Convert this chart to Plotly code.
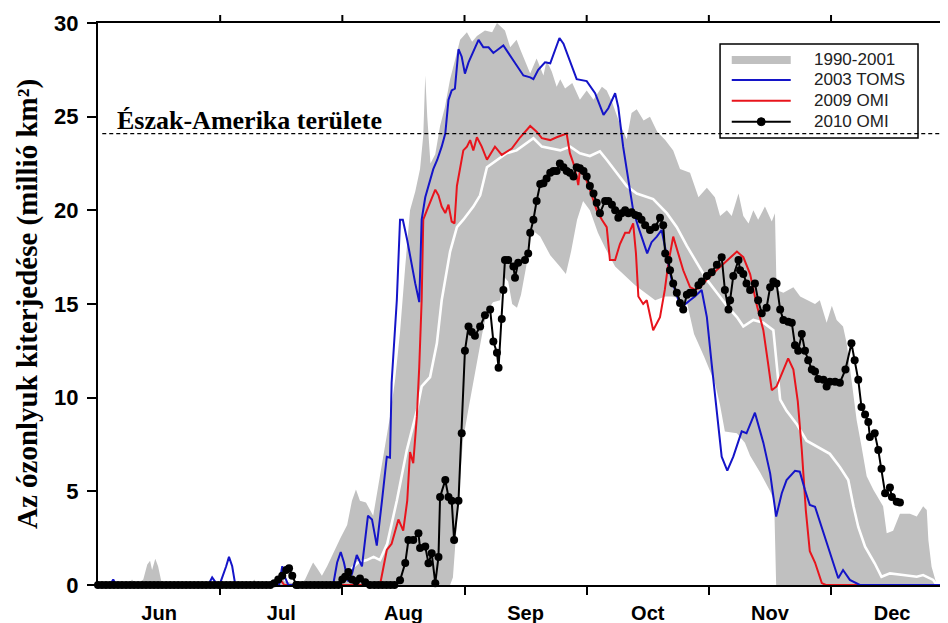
import plotly.graph_objects as go

# x = days since 1 June (axis month spacing of 30.5 days)
month_labels = ["Jun", "Jul", "Aug", "Sep", "Oct", "Nov", "Dec"]
month_mid = [15.25, 45.75, 76.25, 106.75, 137.25, 167.75, 198.25]
month_start = [30.5, 61, 91.5, 122, 152.5, 183]
y_ticks = [0, 5, 10, 15, 20, 25, 30]
north_america_area = 24.1
x_max = 212.2

# 1990-2001 range (upper and lower envelope)
range_hi_day = [0, 7.5, 8.5, 9.5, 11.3, 12.3, 13.0, 13.5, 14.3, 15.0, 15.8, 16.5, 38.0, 39.0, 40.0,
                44.5, 45.5, 46.5, 50.5, 51.7, 53.0, 53.7, 54.7, 55.9, 57.2, 58.7, 60.5, 62.2, 63.4,
                64.4, 65.4, 66.9, 68.7, 69.9, 71.4, 72.9, 74.2, 75.4, 76.7, 77.9, 79.2, 80.4, 81.2,
                81.7, 82.2, 83.0, 84.2, 85.4, 86.6, 87.9, 89.1, 90.4, 92.1, 93.4, 94.6, 96.6, 98.4,
                99.6, 100.6, 101.6, 102.9, 104.5, 105.4, 107.9, 109.5, 111.2, 112.0, 113.3, 114.5,
                115.4, 116.6, 118.4, 120.3, 122.0, 123.7, 125.8, 127.0, 128.3, 130.3, 132.0, 133.2,
                134.5, 136.2, 137.8, 139.6, 141.6, 143.6, 145.3, 147.8, 149.9, 152.0, 154.0, 155.3,
                157.0, 158.2, 159.9, 161.1, 162.4, 163.6, 164.8, 166.5, 168.2, 169.0, 169.4, 171.1,
                173.6, 175.3, 177.3, 179.0, 180.2, 181.9, 183.2, 184.4, 186.0, 186.9, 188.2, 189.4,
                190.6, 191.9, 193.6, 196.0, 196.9, 198.5, 200.2, 202.7, 204.4, 206.0, 206.9, 207.3,
                208.1, 209.0, 209.4]
range_hi_val = [0, 0, 0.3, 0, 0.3, 1.1, 1.3, 0.8, 1.4, 1.0, 0.2, 0, 0, 0.3, 0,
                0, 0.6, 0.2, 0, 0.3, 0.9, 1.2, 0.9, 0.5, 1.0, 1.7, 2.5, 3.2, 4.5,
                5.1, 4.5, 4.4, 3.7, 5.2, 7.0, 9.0, 11.0, 13.5, 17.0, 20.0, 21.0, 22.2, 24.0,
                27.2, 25.0, 22.5, 23.0, 24.5, 25.5, 27.0, 28.0, 29.1, 29.5, 29.0, 29.3, 29.6, 29.5,
                30.0, 29.8, 29.6, 28.7, 29.1, 28.6, 27.3, 28.1, 27.2, 28.0, 27.4, 26.6,
                27.0, 26.5, 26.8, 25.9, 26.4, 25.9, 26.6, 26.4, 25.8, 24.6, 23.8, 25.2,
                25.4, 24.8, 25.0, 24.2, 23.75, 23.2, 22.2, 22.0, 20.7, 21.2, 20.7, 19.7,
                20.0, 19.7, 20.9, 19.7, 19.3, 20.0, 19.5, 20.2, 19.4, 19.85, 15.75, 15.6,
                15.9, 15.4, 15.2, 15.0, 15.2, 14.0, 14.9, 14.15, 13.8, 12.9, 10.8, 8.8,
                7.4, 5.8, 5.07, 4.2, 2.76, 2.9, 3.8, 3.8, 3.65, 4.2, 4.0, 2.4,
                0.98, 0.27, 0]
range_lo_day = [0, 87.9, 88.6, 89.9, 91.1, 92.4, 93.7, 94.6, 95.9, 97.1, 98.6, 100.4, 101.2, 102.4,
                103.4, 104.6, 105.6, 106.9, 108.1, 110.4, 112.9, 115.3, 116.8, 118.1, 119.6, 121.1,
                122.8, 124.8, 126.6, 129.1, 131.6, 134.1, 136.6, 139.1, 141.6, 143.3, 145.3, 147.1,
                148.8, 151.3, 154.0, 155.3, 156.5, 159.5, 161.5, 162.8, 165.3, 167.8, 168.8, 169.3,
                212.2]
range_lo_val = [0, 0, 0.4, 4.2, 7.7, 9.3, 10.8, 12.0, 13.4, 14.6, 15.1, 15.2, 16.5, 16.2,
                15.0, 14.8, 15.5, 17.0, 19.0, 18.6, 17.6, 17.0, 16.6, 17.8, 19.5, 20.5,
                20.0, 18.8, 18.0, 17.0, 16.5, 16.0, 15.6, 15.2, 15.4, 15.4, 15.3, 15.0,
                13.4, 12.2, 10.8, 9.6, 8.2, 8.1, 7.6, 6.9, 6.0, 5.0, 4.5, 0,
                0]

# 1990-2001 mean (white line)
mean_day = [60.4, 62.9, 64.9, 67.1, 68.8, 70.4, 72.2, 74.6, 77.1, 79.6, 80.8, 82.9, 84.6, 85.8,
            86.7, 87.9, 89.6, 91.2, 93.7, 95.4, 97.1, 99.6, 102.0, 104.5, 107.0, 108.7, 110.8,
            112.9, 115.4, 117.9, 120.3, 122.8, 125.3, 127.0, 129.5, 132.0, 134.5, 137.0, 138.6,
            142.0, 144.5, 147.0, 149.5, 152.0, 154.5, 157.0, 159.5, 161.1, 163.6, 166.1, 168.6,
            169.4, 170.3, 171.9, 174.4, 176.9, 179.4, 182.7, 185.2, 187.3, 188.6, 189.8, 191.5,
            193.9, 195.6, 197.7, 201.0, 204.4, 206.0, 208.5, 209.4]
mean_val = [0.3, 0.8, 1.2, 1.33, 1.5, 1.33, 2.2, 4.5, 7.2, 9.3, 10.6, 11.1, 12.9, 15.2,
            16.3, 17.8, 19.1, 19.5, 20.2, 20.8, 22.3, 22.7, 23.05, 23.2, 23.6, 23.85, 23.4,
            23.3, 23.2, 23.4, 23.05, 22.9, 23.15, 22.7, 22.0, 21.3, 20.9, 20.7, 20.6,
            19.85, 19.1, 18.1, 17.2, 16.3, 15.6, 14.9, 14.3, 13.8, 14.15, 14.0, 13.6,
            12.0, 9.9, 9.3, 8.6, 7.7, 7.4, 7.0, 6.3, 5.6, 4.2, 3.1, 2.05,
            1.16, 0.44, 0.62, 0.53, 0.44, 0.53, 0.27, 0]

# 2003 TOMS
toms2003_day = [0, 3.0, 3.8, 4.5, 27.5, 28.5, 29.5, 30.5, 32.0, 32.7, 33.5, 34.2, 35.5, 45.2, 46.0,
                46.7, 47.5, 58.7, 59.7, 60.6, 61.4, 62.4, 63.4, 64.6, 65.9, 66.7, 67.4, 68.4, 69.6,
                70.9, 72.1, 72.9, 73.3, 74.6, 75.4, 76.1, 77.2, 79.2, 80.2, 80.8, 81.7, 83.7, 84.7,
                85.8, 86.7, 87.5, 88.3, 89.1, 90.0, 90.8, 91.6, 92.5, 95.0, 96.2, 97.5, 98.7, 101.2,
                103.7, 106.2, 107.9, 108.7, 109.9, 111.6, 112.9, 114.1, 115.2, 116.2, 117.4, 118.7,
                119.5, 122.0, 124.1, 126.2, 127.4, 129.1, 129.9, 131.1, 132.4, 133.6, 134.9, 136.1,
                137.1, 138.2, 139.5, 140.7, 143.2, 144.9, 146.1, 147.8, 149.0, 150.7, 152.0, 153.2,
                154.5, 155.7, 157.1, 158.6, 160.7, 161.9, 164.0, 166.1, 167.8, 169.3, 170.7, 171.9,
                174.0, 175.2, 176.5, 177.7, 179.0, 181.1, 183.6, 184.8, 186.0, 187.7, 190.2, 212.2]
toms2003_val = [0, 0, 0.3, 0, 0, 0.4, 0.1, 0.1, 1.0, 1.5, 1.0, 0.1, 0, 0, 1.0,
                0.4, 0, 0, 1.2, 1.76, 1.2, 0.2, 0.6, 1.6, 1.0, 2.5, 3.7, 3.5, 2.1,
                4.5, 6.85, 6.8, 10.8, 15.2, 19.5, 19.5, 18.4, 16.1, 15.1, 19.5, 20.7, 22.2, 22.7,
                23.4, 24.1, 25.9, 26.4, 26.5, 28.6, 28.2, 27.3, 27.9, 29.1, 28.7, 28.7, 28.4, 28.8,
                28.0, 27.2, 27.1, 27.0, 27.5, 27.9, 27.85, 28.6, 29.2, 28.9, 28.2, 27.5,
                27.0, 26.9, 26.25, 25.1, 25.45, 26.25, 25.5, 23.4, 21.6, 20.0, 19.1, 18.4,
                17.7, 18.3, 18.6, 18.95, 16.3, 15.2, 14.9, 15.2, 15.4, 15.75, 14.3, 11.8,
                9.3, 6.85, 6.1, 6.85, 8.2, 8.1, 9.2, 7.6, 5.96, 3.65, 4.9, 5.6,
                6.1, 6.05, 5.07, 4.27, 4.18, 2.76, 1.16, 0.36, 0.8, 0.27, 0, 0]

# 2009 OMI
omi2009_day = [0, 44.5, 45.5, 46.5, 70.4, 72.1, 73.3, 75.0, 76.2, 77.2, 77.9, 78.7, 79.6, 80.2, 80.8,
               81.2, 82.1, 83.3, 84.2, 85.0, 85.8, 86.7, 87.5, 88.3, 89.0, 89.6, 90.4, 91.2, 92.1,
               92.9, 93.7, 94.6, 95.8, 97.1, 99.1, 100.8, 103.3, 105.4, 107.9, 109.5, 110.8, 112.9,
               114.5, 117.0, 117.8, 118.7, 119.5, 119.9, 120.3, 121.6, 122.8, 124.5, 125.8, 127.0,
               127.8, 129.1, 130.3, 131.6, 132.6, 133.6, 134.3, 134.9, 136.1, 137.0, 138.6, 140.3,
               141.5, 142.4, 143.6, 146.1, 147.8, 149.1, 150.3, 152.0, 154.4, 156.9, 159.5, 161.1,
               162.8, 164.4, 166.1, 167.3, 168.2, 169.4, 171.1, 172.3, 173.6, 174.7, 175.7, 176.7,
               177.7, 179.0, 180.7, 181.7, 212.2]
omi2009_val = [0, 0, 0.3, 0, 0, 1.87, 2.2, 3.5, 2.9, 4.5, 7.1, 6.5, 9.0, 11.65, 15.2,
               19.5, 20.0, 20.6, 21.1, 20.8, 20.2, 19.85, 20.3, 19.4, 19.3, 21.3, 22.3, 23.2, 23.4,
               23.75, 23.2, 23.9, 23.4, 22.7, 23.4, 22.96, 23.3, 23.9, 24.5, 24.2, 23.85, 23.75,
               23.9, 24.1, 23.05, 22.5, 21.8, 21.35, 22.15, 21.8, 21.1, 20.0, 19.5, 19.1,
               17.35, 17.35, 18.2, 18.8, 18.8, 19.3, 17.7, 15.4, 15.0, 15.2, 13.6, 14.3,
               15.75, 17.2, 18.6, 16.8, 15.9, 15.75, 15.9, 16.3, 16.8, 17.3, 17.8, 17.5,
               16.6, 15.0, 13.6, 11.8, 10.4, 10.6, 11.5, 12.1, 11.5, 9.8, 7.2, 4.0,
               1.8, 1.2, 0.1, 0, 0]

# 2010 OMI
omi2010_day = [0, 1, 2, 3, 4, 5, 6, 7, 8, 9, 10, 11, 12, 13, 14, 15, 16, 17, 18, 19, 20, 21, 22,
               23, 24, 25, 26, 27, 28, 29, 30, 31, 32, 33, 34, 35, 36, 37, 38, 39, 40, 41, 42, 43,
               44, 45, 46, 47, 47.7, 48.5, 49.5, 50, 51, 52, 53, 54, 55, 56, 57, 58, 59, 60,
               61.0, 61.7, 62.5, 63.4, 64.4, 65.4, 66.7, 67.9, 69, 70, 71, 72, 73, 74,
               75.4, 76.7, 77.5, 78.7, 80.0, 80.4, 81.7, 82.5, 83.3, 84.2, 85.0, 85.4, 86.7, 87.5,
               88.3, 88.9, 90.0, 90.8, 91.6, 92.5, 93.3, 94.1, 95.4, 96.6, 97.9, 98.7, 99.6, 100.0,
               100.8, 101.2, 101.6, 102.4, 103.7, 104.1, 104.9, 106.6, 107.4, 107.9, 108.7, 109.5,
               110.4, 111.2, 112.0, 112.9, 113.7, 114.5, 115.3, 116.2, 117.0, 117.8, 118.7, 119.5,
               120.3, 121.2, 122.0, 122.8, 123.7, 124.5, 125.3, 126.6, 127.4, 128.3, 129.1, 129.9,
               130.7, 131.6, 132.4, 133.2, 134.1, 134.9, 135.7, 136.6, 137.8, 139.1, 140.3, 141.1,
               141.6, 142.4, 142.8, 143.6, 144.5, 145.3, 146.1, 147.0, 147.8, 148.6, 149.9, 150.7,
               152.0, 153.2, 154.5, 155.7, 156.5, 157.4, 157.8, 158.6, 159.9, 160.3, 161.1, 161.9,
               162.8, 164.0, 164.8, 165.7, 166.9, 167.8, 168.6, 169.4, 170.3, 171.1, 172.3, 173.2,
               174.0, 174.8, 175.7, 176.5, 177.3, 178.2, 179.0, 179.8, 181.1, 181.9, 182.7, 184.0,
               185.2, 186.6, 188.1, 188.9, 189.8, 190.6, 191.5, 192.3, 192.7, 193.9, 194.8, 195.6,
               196.5, 197.7, 198.2, 199.4, 200.2]
omi2010_val = [0, 0, 0, 0, 0, 0, 0, 0, 0, 0, 0, 0, 0, 0, 0, 0, 0, 0, 0, 0, 0, 0, 0,
               0, 0, 0, 0, 0, 0, 0, 0, 0, 0, 0, 0, 0, 0, 0, 0, 0, 0, 0, 0, 0,
               0.1, 0.3, 0.5, 0.8, 0.9, 0.5, 0, 0, 0, 0, 0, 0, 0, 0, 0, 0, 0, 0,
               0.3, 0.44, 0.7, 0.3, 0.2, 0.35, 0.15, 0, 0, 0, 0, 0, 0, 0,
               0.25, 1.17, 2.4, 2.4, 2.76, 1.97, 2.05, 1.16, 1.7, 0.1, 1.5, 4.7, 5.6, 4.7,
               4.5, 2.4, 4.5, 8.1, 12.5, 13.8, 13.5, 13.3, 13.8, 14.4, 14.7, 13.0, 12.4, 11.6,
               14.2, 15.75, 17.35, 17.35, 17.0, 16.4, 17.2, 17.35, 17.7, 18.8, 19.5, 20.5,
               21.4, 21.45, 21.7, 22.0, 22.1, 22.1, 22.5, 22.3, 22.1, 22.0, 21.8, 22.3,
               22.25, 22.1, 21.8, 21.3, 20.9, 20.4, 19.85, 20.5, 20.5, 20.3, 20.0, 19.6,
               19.85, 20.0, 19.85, 19.9, 19.75, 19.7, 19.5, 19.2, 18.95, 19.1, 19.6, 19.2,
               17.7, 17.35, 16.8, 16.1, 15.6, 15.05, 14.7, 15.5, 15.6, 15.6, 16.0, 16.2,
               16.5, 16.7, 17.1, 17.5, 15.75, 14.7, 15.2, 16.5, 17.35, 16.8, 16.6, 16.1,
               15.75, 16.1, 15.2, 14.5, 14.8, 15.9, 16.2, 16.1, 14.7, 14.15, 14.05, 14.0,
               12.8, 12.5, 13.4, 12.5, 12.0, 11.5, 11.4, 11.0, 10.95, 10.6, 10.85, 10.85,
               10.8, 11.5, 12.9, 12.0, 10.95, 9.5, 9.1, 8.7, 7.9, 8.1, 7.2, 6.2,
               4.9, 5.2, 4.7, 4.45, 4.4]

GRAY = "#c0c0c0"
BLUE = "#1414c8"
RED = "#e8141c"
SANS = "Liberation Sans, Arial, sans-serif"
SERIF = "Liberation Serif, Times New Roman, serif"

fig = go.Figure()
fig.add_trace(go.Scatter(x=range_lo_day, y=range_lo_val, mode="lines", line=dict(width=0, color=GRAY),
                         showlegend=False, hoverinfo="skip"))
fig.add_trace(go.Scatter(x=range_hi_day, y=range_hi_val, mode="lines", line=dict(width=0, color=GRAY),
                         fill="tonexty", fillcolor=GRAY, name="1990-2001", showlegend=False))
fig.add_trace(go.Scatter(x=mean_day, y=mean_val, mode="lines", line=dict(width=2.6, color="white"),
                         showlegend=False, name="1990-2001 mean"))
fig.add_trace(go.Scatter(x=omi2009_day, y=omi2009_val, mode="lines", line=dict(width=2, color=RED),
                         name="2009 OMI", showlegend=False))
fig.add_trace(go.Scatter(x=toms2003_day, y=toms2003_val, mode="lines", line=dict(width=2, color=BLUE),
                         name="2003 TOMS", showlegend=False))
fig.add_trace(go.Scatter(x=omi2010_day, y=omi2010_val, mode="lines+markers",
                         line=dict(width=2, color="black"), marker=dict(size=8, color="black", symbol="circle"),
                         name="2010 OMI", showlegend=False, cliponaxis=False))

# dashed reference line (area of North America)
fig.add_shape(type="line", xref="paper", yref="y", x0=0.005, x1=1, y0=north_america_area, y1=north_america_area,
              line=dict(color="black", width=1.3, dash="4px,3px"))
fig.add_annotation(xref="paper", yref="y", x=0.02, y=north_america_area, xanchor="left", yanchor="bottom",
                   text="<b>Észak-Amerika területe</b>", showarrow=False,
                   font=dict(family=SERIF, size=26, color="black"), yshift=-3)

# tick marks above the top frame line at each month start (paper refs so they are not clipped)
for m in month_start:
    fig.add_shape(type="line", xref="paper", yref="paper", x0=m / x_max, x1=m / x_max,
                  y0=1, y1=1 + 8 / 562, line=dict(color="black", width=2))

# manual legend box (positions in screen pixels of the plot area)
def px_x(p):
    return (p - 97.8) / 850.2

def px_y(p):
    return (585 - p) / 562

fig.add_shape(type="rect", xref="paper", yref="paper", x0=px_x(720), x1=px_x(918), y0=px_y(138), y1=px_y(44),
              line=dict(color="black", width=1.5), fillcolor="rgba(0,0,0,0)")
legend_items = [("1990-2001", GRAY, 60, 8), ("2003 TOMS", BLUE, 80, 2), ("2009 OMI", RED, 100.7, 2),
                ("2010 OMI", "black", 121.7, 2)]
for label, col, py, w in legend_items:
    fig.add_shape(type="line", xref="paper", yref="paper", x0=px_x(731.7), x1=px_x(790.7),
                  y0=px_y(py), y1=px_y(py), line=dict(color=col, width=w))
    fig.add_annotation(xref="paper", yref="paper", x=px_x(812), y=px_y(py), xanchor="left", yanchor="middle",
                       text=label, showarrow=False, font=dict(family=SANS, size=17, color="#222"))
fig.add_shape(type="circle", xref="paper", yref="paper", x0=px_x(757.2), x1=px_x(765.2),
              y0=px_y(125.7), y1=px_y(117.7), line=dict(color="black", width=1), fillcolor="black")

# the page body adds an 8px offset, so the figure is 8px smaller and margins compensate
fig.update_layout(
    width=940, height=615,
    margin=dict(l=90, r=0, t=15, b=38),
    plot_bgcolor="white", paper_bgcolor="white",
    showlegend=False,
    xaxis=dict(range=[0, x_max], tickmode="array", tickvals=month_mid, ticktext=month_labels,
               ticks="", ticklen=0, showgrid=False, zeroline=False,
               showline=True, linecolor="black", linewidth=2, mirror=True,
               tickfont=dict(family=SANS, size=20, color="black", weight="bold"),
               ticklabelstandoff=9,
               minor=dict(tickmode="array", tickvals=month_start, ticks="outside", ticklen=8,
                          tickwidth=2, tickcolor="black", showgrid=False)),
    yaxis=dict(range=[0, 30], tickmode="array", tickvals=y_ticks, ticks="outside", ticklen=9, tickwidth=2,
               tickcolor="black", showgrid=False, zeroline=False, showline=True, linecolor="black",
               linewidth=2, ticklabelstandoff=4,
               tickfont=dict(family=SANS, size=22, color="black", weight="bold"),
               title=dict(text="Az ózonlyuk kiterjedése (millió km²)", standoff=8,
                          font=dict(family=SERIF, size=29, color="black", weight="bold"))),
)

fig.write_html("out.html")
